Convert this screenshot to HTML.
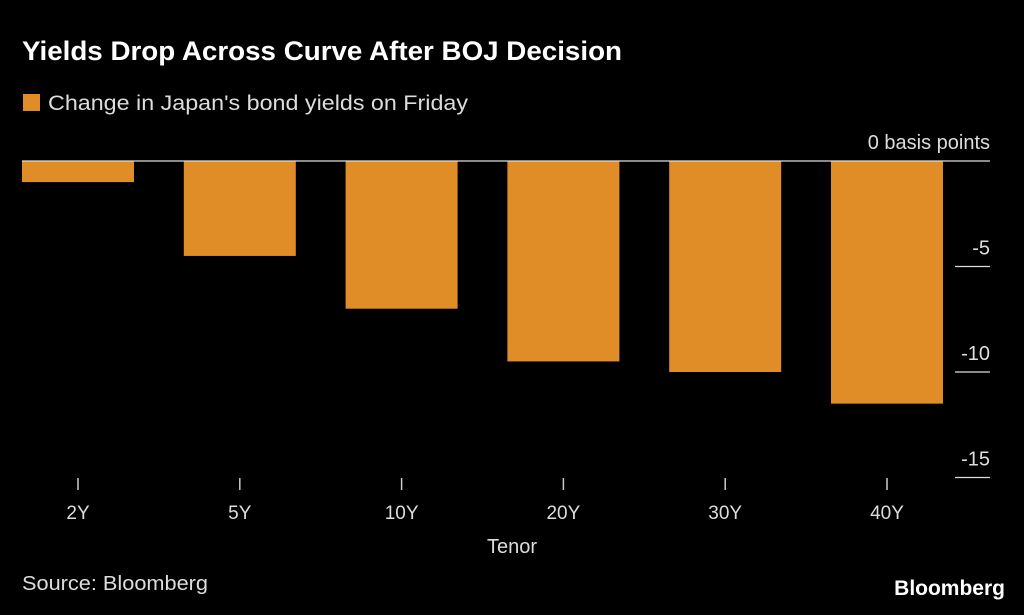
<!DOCTYPE html>
<html><head><meta charset="utf-8"><style>
body{margin:0;background:#000;width:1024px;height:615px;overflow:hidden;font-family:"Liberation Sans",sans-serif;color:#fff}
</style></head><body>
<svg width="1024" height="615" style="position:absolute;left:0;top:0">
<text x="22" y="60" font-size="27" font-weight="bold" fill="#fff" textLength="600" lengthAdjust="spacingAndGlyphs">Yields Drop Across Curve After BOJ Decision</text>
<rect x="23" y="94" width="17" height="17" fill="#e08c27"/>
<text x="48" y="110" font-size="21" fill="#ddd" textLength="420" lengthAdjust="spacingAndGlyphs">Change in Japan's bond yields on Friday</text>
<g id="plot"></g>
<text x="512" y="553" font-size="20" fill="#ddd" text-anchor="middle">Tenor</text>
<text x="22" y="590" font-size="20" fill="#ddd" textLength="186" lengthAdjust="spacingAndGlyphs">Source: Bloomberg</text>
<text x="1005" y="595" font-size="21" font-weight="bold" fill="#fff" text-anchor="end">Bloomberg</text>
</svg>
<script>
const categories=["2Y","5Y","10Y","20Y","30Y","40Y"];
const values=[-1.0,-4.5,-7.0,-9.5,-10.0,-11.5];
const yTicks=[0,-5,-10,-15];
const yTickLabels=["0 basis points","-5","-10","-15"];
const NS="http://www.w3.org/2000/svg";
const g=document.getElementById('plot');
const y0=161,pxPer=21.1,left=22,band=161.8,bw=112;
const y=v=>y0-v*pxPer;
const xc=i=>left+bw/2+i*band;
function mk(t,a){const e=document.createElementNS(NS,t);for(const k in a)e.setAttribute(k,a[k]);g.appendChild(e);return e;}
values.forEach((v,i)=>{
  const r=mk('rect',{x:xc(i)-bw/2,y:Math.min(y(0),y(v)),width:bw,height:Math.abs(y(v)-y(0)),fill:'#e08c27'});
  
  
  const t=mk('line',{x1:xc(i),x2:xc(i),y1:478,y2:490,stroke:'#ccc','stroke-width':1.5});
  
  
  const l=mk('text',{x:xc(i),y:519,'font-size':19,fill:'#ddd','text-anchor':'middle'});
  l.textContent=categories[i];
  
  
});
yTicks.forEach((v,i)=>{
  const ln=mk('line',{x1:v===0?left:955,x2:990,y1:y(v),y2:y(v),stroke:'#ddd','stroke-width':1.2});
  
  
  const t=mk('text',{x:990,y:y(v)-12,'font-size':20,fill:'#ddd','text-anchor':'end'});
  t.textContent=yTickLabels[i];
  
  
});
</script>
</body></html>
